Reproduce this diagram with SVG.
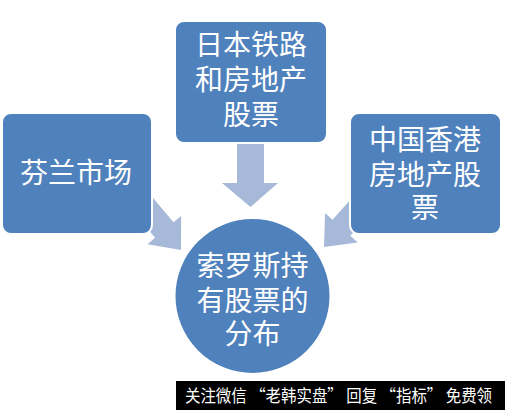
<svg xmlns="http://www.w3.org/2000/svg" width="505" height="410" viewBox="0 0 505 410">
<style>
.node{fill:#4f81bd;stroke:#ffffff;stroke-width:2}
.arrow{fill:#a7b9d8}
.t{font-family:"Noto Sans CJK SC","Noto Sans",sans-serif;font-size:28px;fill:#ffffff;text-anchor:middle}
.b{font-family:"Noto Sans CJK SC","Noto Sans",sans-serif;font-size:16.5px;fill:#ffffff}
</style>
<rect width="505" height="410" fill="#ffffff"/>
<g id="connectors">
<polygon class="arrow" points="237,144 264,144 264,183 278,183 250.5,207 222,183 237,183"/>
<polygon class="arrow" transform="translate(181,250) rotate(50)" points="-62,-12 -26,-12 -26,-22 0,0 -26,22 -26,12 -62,12"/>
<polygon class="arrow" transform="translate(324,247) rotate(132)" points="-62,-12 -26,-12 -26,-22 0,0 -26,22 -26,12 -62,12"/>
</g>
<g id="node-finland">
<rect class="node" x="2" y="113" width="150" height="121" rx="9"/>
<text class="t" x="76" y="183">芬兰市场</text>
</g>
<g id="node-japan">
<rect class="node" x="175" y="21" width="152" height="122" rx="9"/>
<text class="t" x="251" y="55">日本铁路</text>
<text class="t" x="251" y="90">和房地产</text>
<text class="t" x="251" y="125">股票</text>
</g>
<g id="node-hongkong">
<rect class="node" x="350" y="113" width="151" height="121" rx="9"/>
<text class="t" x="425" y="150">中国香港</text>
<text class="t" x="425" y="185">房地产股</text>
<text class="t" x="425" y="218">票</text>
</g>
<g id="node-center">
<circle class="node" cx="252.5" cy="296" r="78"/>
<text class="t" x="252.5" y="276">索罗斯持</text>
<text class="t" x="252.5" y="311">有股票的</text>
<text class="t" x="252.5" y="344">分布</text>
</g>
<g id="banner">
<rect x="176" y="381" width="329" height="29" fill="#000000"/>
<text class="b" x="185" y="402" textLength="307" lengthAdjust="spacingAndGlyphs">关注微信 “老韩实盘” 回复 “指标” 免费领</text>
</g>
</svg>
